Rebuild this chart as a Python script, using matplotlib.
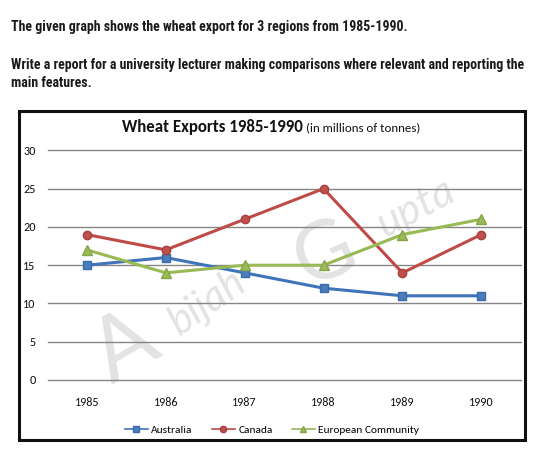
import matplotlib
matplotlib.use("Agg")
import matplotlib.pyplot as plt
from matplotlib.patches import Rectangle

years = ["1985", "1986", "1987", "1988", "1989", "1990"]
australia = [15, 16, 14, 12, 11, 11]
canada = [19, 17, 21, 25, 14, 19]
european = [17, 14, 15, 15, 19, 21]
yticks = [0, 5, 10, 15, 20, 25, 30]

W, H = 540, 453
fig = plt.figure(figsize=(W / 100, H / 100), dpi=100)
fig.patch.set_facecolor("white")

def fx(px):
    return px / W

def fy(py):
    return 1 - py / H

body_font = ["Carlito", "Lato", "DejaVu Sans"]

# header text
hdr_font = ["Roboto Condensed", "Fira Sans Condensed", "DejaVu Sans"]
hdr = dict(fontsize=10, fontweight="bold", family=hdr_font, va="center", ha="left", color="#1a1a1a")
fig.text(fx(11), fy(27), "The given graph shows the wheat export for 3 regions from 1985-1990.", **hdr)
fig.text(fx(11), fy(65), "Write a report for a university lecturer making comparisons where relevant and reporting the", **hdr)
fig.text(fx(11), fy(83), "main features.", **hdr)

# chart box
fig.patches.append(Rectangle((fx(19), fy(440)), fx(525) - fx(19), fy(111) - fy(440),
                             transform=fig.transFigure, fill=False, edgecolor="#111111",
                             linewidth=2.2, zorder=10))

# title
t1 = fig.text(fx(122), fy(127), "Wheat Exports 1985-1990", fontsize=12.2, fontweight="bold",
              family=body_font, va="center", ha="left", color="#111111")
fig.canvas.draw()
bb = t1.get_window_extent()
fig.text(bb.x1 / W + fx(3), fy(127.5), "(in millions of tonnes)", fontsize=9.3,
         family=body_font, va="center", ha="left", color="#111111")

ax = fig.add_axes([fx(47.5), fy(380), fx(520.7) - fx(47.5), fy(150.4) - fy(380)])
x = list(range(len(years)))

# watermark
wm = "#e3e3e3"
ax.text(fx(125), fy(348), "A", transform=fig.transFigure, fontsize=64, family="Lato",
        color=wm, rotation=30, ha="center", va="center", zorder=1)
ax.text(fx(207), fy(302), "bijah", transform=fig.transFigure, fontsize=30, family="Lato",
        color=wm, rotation=35, ha="center", va="center", zorder=1, style="italic")
ax.text(fx(325), fy(255), "G", transform=fig.transFigure, fontsize=58, family="Lato",
        color=wm, rotation=25, ha="center", va="center", zorder=1)
ax.text(fx(416), fy(208), "upta", transform=fig.transFigure, fontsize=31, family="Lato",
        color=wm, rotation=28, ha="center", va="center", zorder=1, style="italic")

ax.plot(x, australia, color="#3F74BA", lw=2.2, marker="s", ms=6, mfc="#4A7EBB",
        mec="#3A6AA8", label="Australia", zorder=3)
ax.plot(x, canada, color="#BE4B48", lw=2.2, marker="o", ms=6, mfc="#C0504D",
        mec="#A8403D", label="Canada", zorder=3)
ax.plot(x, european, color="#98B954", lw=2.2, marker="^", ms=6.5, mfc="#9BBB59",
        mec="#86A548", label="European Community", zorder=3)

ax.set_xlim(-0.5, len(years) - 0.5)
ax.set_ylim(0, 30)
ax.set_yticks(yticks)
ax.set_xticks(x)
ax.set_xticklabels(years)
ax.grid(axis="y", color="#868686", lw=1.0, zorder=2)
for gl in ax.get_ygridlines():
    gl.set_clip_on(False)
ax.set_axisbelow(False)
for s in ax.spines.values():
    s.set_visible(False)
ax.tick_params(axis="both", length=0, labelsize=8.7, colors="#111111")
ax.tick_params(axis="y", pad=8.5)
ax.tick_params(axis="x", pad=12)
for lab in ax.get_xticklabels() + ax.get_yticklabels():
    lab.set_family(body_font)

leg = ax.legend(loc="center", bbox_to_anchor=(fx(272), fy(430)), bbox_transform=fig.transFigure,
                ncol=3, frameon=False, handlelength=2.0, columnspacing=1.7,
                handletextpad=0.3, prop={"family": body_font, "size": 8.2})
for h in leg.legend_handles:
    h.set_linewidth(1.2)
    h.set_markersize(4.5)

fig.savefig("out.png", dpi=100, facecolor="white")
